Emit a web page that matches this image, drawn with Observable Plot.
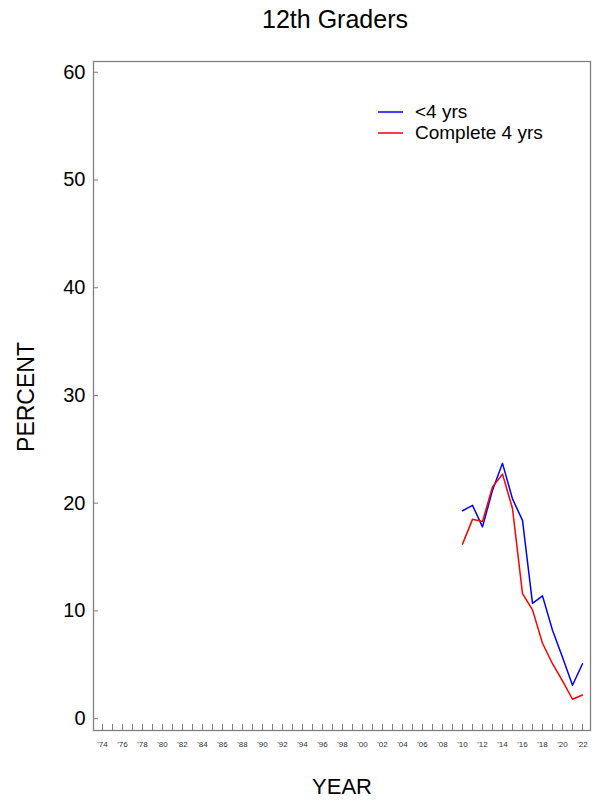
<!DOCTYPE html>
<html><head><meta charset="utf-8">
<script src="https://cdn.jsdelivr.net/npm/d3@7"></script>
<script src="https://cdn.jsdelivr.net/npm/@observablehq/plot@0.6"></script>
<style>
body{margin:0;background:#fff;font-family:Arial,"Liberation Sans",sans-serif;}
#wrap{position:relative;width:592px;height:801px;}
#legend{position:absolute;left:378px;top:101px;font-size:19px;color:#000;line-height:21px;}
#legend div{display:flex;align-items:center;height:21px;}
#legend svg{margin-right:12px;}
</style></head>
<body><div id="wrap"><div id="legend"></div></div>
<script>
const years = [2010,2011,2012,2013,2014,2015,2016,2017,2018,2019,2020,2021,2022];
const lessThan4 = [19.3,19.8,17.8,21.2,23.7,20.4,18.4,10.7,11.4,8.2,5.7,3.1,5.1];
const complete4 = [16.2,18.5,18.3,21.5,22.7,19.5,11.6,10.1,7.0,5.1,3.5,1.8,2.2];
const seriesNames = ["<4 yrs","Complete 4 yrs"];
const seriesColors = ["#0000ff","#ff0000"];
const yTicks = [0,10,20,30,40,50,60];
const xTicks = d3.range(1974,2023);
const xLabelTicks = d3.range(1974,2023,2);

const data = [];
years.forEach((yr,i)=>{
  data.push({year:yr,value:lessThan4[i],series:seriesNames[0]});
  data.push({year:yr,value:complete4[i],series:seriesNames[1]});
});

const chart = Plot.plot({
  width:592, height:801,
  marginLeft:93, marginRight:2, marginTop:61, marginBottom:71,
  style:{fontFamily:'Arial,"Liberation Sans",sans-serif', background:"#fff"},
  x:{domain:[1973.1,2022.8], label:null},
  y:{domain:[-1.1,61], label:null},
  color:{domain:seriesNames, range:seriesColors},
  marks:[
    Plot.frame({stroke:"#808080", strokeWidth:1.3}),
    Plot.axisY({ticks:yTicks, tickSize:-5, tickPadding:13, fontSize:20, stroke:"#808080", color:"#000", label:null, tickFormat:d=>String(d)}),
    Plot.axisX({ticks:xTicks, tickSize:-6, tickPadding:0, stroke:"#808080", tickFormat:()=>"" , label:null}),
    Plot.axisX({ticks:xLabelTicks, tickSize:0, tickPadding:11, fontSize:8, fill:"#333", tickFormat:d=>"'"+String(d).slice(2), label:null}),
    Plot.line(data,{x:"year",y:"value",stroke:"series",strokeWidth:1.5}),
    Plot.text(["12th Graders"],{frameAnchor:"top",lineAnchor:"middle",dy:-42,dx:-7,fontSize:25,fill:"#000"}),
    Plot.text(["YEAR"],{frameAnchor:"bottom",lineAnchor:"middle",dy:56,fontSize:22,fill:"#000"}),
    Plot.text(["PERCENT"],{frameAnchor:"left",textAnchor:"middle",lineAnchor:"middle",dx:-67,dy:1,rotate:-90,fontSize:23,fill:"#000"})
  ]
});
document.getElementById("wrap").prepend(chart);
const leg = document.getElementById("legend");
seriesNames.forEach((n,i)=>{
  const d = document.createElement("div");
  d.innerHTML = `<svg width="25" height="4"><line x1="0" x2="25" y1="2" y2="2" stroke="${seriesColors[i]}" stroke-width="1.5"/></svg><span>${n.replace("<","&lt;")}</span>`;
  leg.appendChild(d);
});
</script></body></html>
